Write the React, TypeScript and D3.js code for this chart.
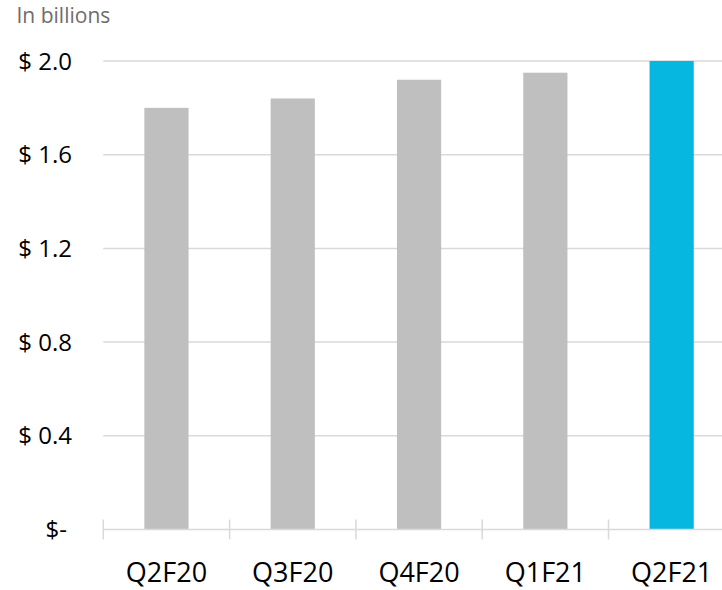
import React from "react";
import * as d3 from "d3";

const categories = ["Q2F20", "Q3F20", "Q4F20", "Q1F21", "Q2F21"];
const values = [1.8, 1.84, 1.92, 1.95, 2.0];
const yTicks = [0, 0.4, 0.8, 1.2, 1.6, 2.0];
const unitLabel = "In billions";

const W = 722;
const H = 590;
const plotLeft = 103.3;
const plotRight = 734.8;
const plotTop = 61;
const plotBottom = 529.5;
const FONT = "'Open Sans', sans-serif";

export default function App() {
  const x = d3
    .scaleBand<string>()
    .domain(categories)
    .range([plotLeft, plotRight])
    .paddingInner(0.65)
    .paddingOuter(0.325);
  const y = d3.scaleLinear().domain([0, 2.0]).range([plotBottom, plotTop]);
  const step = x.step();
  const bandStart = plotLeft;
  const fmt = (v: number) => (v === 0 ? "$-" : `$ ${d3.format(".1f")(v)}`);
  const boundaries = d3.range(categories.length + 1).map((i) => bandStart + i * step);

  return (
    <svg
      width={W}
      height={H}
      style={{ position: "absolute", left: 0, top: 0, background: "#fff" }}
    >
      <text x={16.5} y={23.3} fontFamily={FONT} fontSize={21} fill="#6d6d6d">
        {unitLabel}
      </text>
      {yTicks
        .filter((t) => t !== 0)
        .map((t) => (
          <line
            key={"g" + t}
            x1={plotLeft}
            x2={W}
            y1={y(t)}
            y2={y(t)}
            stroke="#d9d9d9"
            strokeWidth={1.5}
          />
        ))}
      {yTicks.map((t) => (
        <text
          key={"yl" + t}
          x={t === 0 ? 67 : 72}
          y={y(t)}
          dy="0.36em"
          textAnchor="end"
          fontFamily={FONT}
          fontSize={24}
          fill="#000"
        >
          {fmt(t)}
        </text>
      ))}
      {categories.map((c, i) => (
        <rect
          key={c}
          x={x(c)}
          y={y(values[i])}
          width={x.bandwidth()}
          height={plotBottom - y(values[i])}
          fill={i === categories.length - 1 ? "#06b8e0" : "#bfbfbf"}
        />
      ))}
      <line
        x1={plotLeft}
        x2={W}
        y1={plotBottom}
        y2={plotBottom}
        stroke="#d9d9d9"
        strokeWidth={1.5}
      />
      {boundaries.map((bx, i) => (
        <line
          key={"t" + i}
          x1={bx}
          x2={bx}
          y1={plotBottom - 10}
          y2={plotBottom + 10}
          stroke="#d9d9d9"
          strokeWidth={1.5}
        />
      ))}
      {categories.map((c) => (
        <text
          key={"xl" + c}
          x={(x(c) as number) + x.bandwidth() / 2}
          y={581.5}
          textAnchor="middle"
          fontFamily={FONT}
          fontSize={27}
          fill="#000"
        >
          {c}
        </text>
      ))}
    </svg>
  );
}
